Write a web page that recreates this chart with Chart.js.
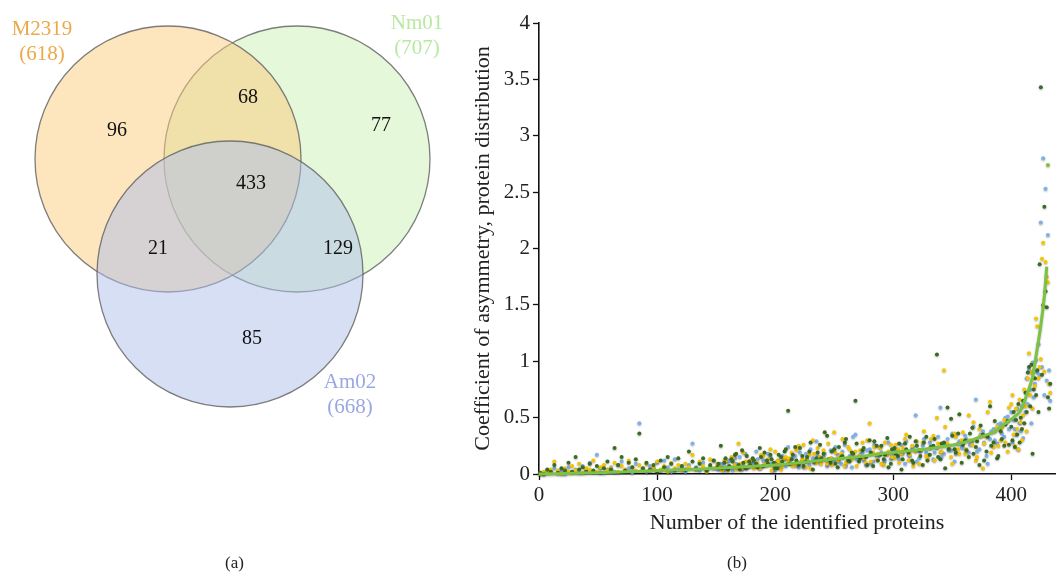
<!DOCTYPE html>
<html>
<head>
<meta charset="utf-8">
<script src="https://cdn.jsdelivr.net/npm/chart.js@4.4.1/dist/chart.umd.min.js"></script>
<style>
  body { margin: 0; background: #fff; }
  #wrap { position: relative; width: 1059px; height: 575px; overflow: hidden; }
  .panel { position: absolute; top: 0; }
  .cap { position: absolute; top: 553px; font: 17px "Liberation Serif", serif; color: #222; }
</style>
</head>
<body>
<div id="wrap">
  <div class="panel" style="left:0px"><canvas id="venn" width="470" height="575"></canvas></div>
  <div class="panel" style="left:470px"><canvas id="scatter" width="589" height="575"></canvas></div>
  <div class="cap" style="left:225px">(a)</div>
  <div class="cap" style="left:727px">(b)</div>
</div>
<script>
// ---- (a) Venn data ----
const setNames = ["M2319", "Nm01", "Am02"];
const setTotals = [618, 707, 668];
const regionCounts = [96, 77, 85, 68, 21, 129, 433]; // M only, N only, A only, M&N, M&A, N&A, all

// ---- (b) scatter data ----
const proteins = [
  1, 4, 7, 10, 13, 16, 19, 22, 25, 28,
  31, 34, 37, 40, 43, 46, 49, 52, 55, 58,
  61, 64, 67, 70, 73, 76, 79, 82, 85, 88,
  91, 94, 97, 100, 103, 106, 109, 112, 115, 118,
  121, 124, 127, 130, 133, 136, 139, 142, 145, 148,
  151, 154, 157, 160, 163, 166, 169, 172, 175, 178,
  181, 184, 187, 190, 193, 196, 199, 202, 205, 208,
  211, 214, 217, 220, 223, 226, 229, 232, 235, 238,
  241, 244, 247, 250, 253, 256, 259, 262, 265, 268,
  271, 274, 277, 280, 283, 286, 289, 292, 295, 298,
  301, 304, 307, 310, 313, 316, 319, 322, 325, 328,
  331, 334, 337, 340, 343, 346, 349, 352, 355, 358,
  361, 364, 367, 370, 373, 376, 379, 382, 385, 388,
  391, 394, 397,
  400, 401, 402, 403, 404, 405, 406, 407, 408, 409,
  410, 411, 412, 413, 414, 415, 416, 417, 418, 419,
  420, 421, 422, 423, 424, 425, 426, 427, 428, 429,
  430, 431, 432, 433
];
const blueVals = [
  0.01, 0.00, 0.03, 0.02, 0.05, 0.01, 0.03, 0.00, 0.06, 0.02,
  0.04, 0.01, 0.07, 0.03, 0.10, 0.02, 0.17, 0.05, 0.01, 0.04,
  0.06, 0.02, 0.08, 0.11, 0.03, 0.05, 0.01, 0.09, 0.45, 0.04,
  0.02, 0.07, 0.05, 0.10, 0.03, 0.12, 0.06, 0.02, 0.13, 0.04,
  0.05, 0.02, 0.08, 0.27, 0.06, 0.03, 0.10, 0.04, 0.07, 0.12,
  0.05, 0.09, 0.03, 0.11, 0.06, 0.14, 0.08, 0.04, 0.18, 0.07,
  0.10, 0.20, 0.05, 0.12, 0.08, 0.15, 0.03, 0.11, 0.07, 0.13,
  0.24, 0.09, 0.16, 0.06, 0.12, 0.18, 0.08, 0.14, 0.29, 0.10,
  0.15, 0.07, 0.21, 0.12, 0.17, 0.09, 0.26, 0.13, 0.06, 0.35,
  0.14, 0.19, 0.08, 0.22, 0.11, 0.16, 0.24, 0.10, 0.18, 0.13,
  0.20, 0.15, 0.26, 0.09, 0.17, 0.22, 0.52, 0.14, 0.25, 0.19,
  0.28, 0.13, 0.23, 0.59, 0.18, 0.31, 0.21, 0.11, 0.27, 0.24,
  0.34, 0.19, 0.29, 0.66, 0.22, 0.38, 0.16, 0.31, 0.40, 0.27,
  0.45, 0.33, 0.51,
  0.55, 0.28, 0.48, 0.40, 0.35, 0.58, 0.22, 0.45, 0.38, 0.60,
  0.32, 0.65, 0.55, 0.85, 0.62, 0.92, 0.75, 0.45, 0.99, 0.68,
  0.80, 1.01, 0.90, 1.15, 0.88, 2.23, 0.95, 2.80, 0.70, 2.53,
  0.83, 2.12, 0.92, 0.65
];
const yellowVals = [
  0.00, 0.02, 0.01, 0.04, 0.11, 0.03, 0.00, 0.05, 0.02, 0.07,
  0.03, 0.09, 0.01, 0.05, 0.04, 0.12, 0.02, 0.06, 0.08, 0.03,
  0.05, 0.10, 0.02, 0.07, 0.04, 0.12, 0.06, 0.03, 0.08, 0.05,
  0.09, 0.03, 0.06, 0.11, 0.04, 0.07, 0.02, 0.10, 0.05, 0.08,
  0.03, 0.09, 0.06, 0.17, 0.04, 0.11, 0.07, 0.02, 0.13, 0.05,
  0.09, 0.06, 0.12, 0.03, 0.15, 0.08, 0.27, 0.05, 0.11, 0.07,
  0.13, 0.09, 0.05, 0.16, 0.10, 0.22, 0.07, 0.12, 0.04, 0.14,
  0.11, 0.19, 0.08, 0.25, 0.13, 0.06, 0.17, 0.30, 0.10, 0.15,
  0.21, 0.09, 0.14, 0.37, 0.12, 0.18, 0.07, 0.24, 0.13, 0.20,
  0.16, 0.28, 0.10, 0.45, 0.19, 0.13, 0.23, 0.08, 0.17, 0.26,
  0.14, 0.22, 0.18, 0.31, 0.12, 0.25, 0.20, 0.09, 0.28, 0.16,
  0.23, 0.34, 0.50, 0.19, 0.92, 0.27, 0.15, 0.36, 0.22, 0.30,
  0.18, 0.52, 0.26, 0.12, 0.40, 0.05, 0.33, 0.64, 0.24, 0.42,
  0.30, 0.48, 0.20,
  0.62, 0.70, 0.35, 0.25, 0.58, 0.40, 0.22, 0.66, 0.46, 0.30,
  0.52, 0.75, 0.60, 0.38, 0.85, 1.07, 0.70, 0.90, 0.58, 0.92,
  0.78, 1.38, 1.31, 0.85, 0.95, 1.02, 1.91, 2.05, 0.91, 1.88,
  1.75, 1.70, 0.80, 0.72
];
const darkVals = [
  0.01, 0.00, 0.04, 0.02, 0.08, 0.01, 0.05, 0.03, 0.10, 0.02,
  0.15, 0.04, 0.06, 0.02, 0.09, 0.03, 0.07, 0.01, 0.05, 0.11,
  0.04, 0.23, 0.08, 0.15, 0.03, 0.10, 0.06, 0.13, 0.36, 0.05,
  0.10, 0.04, 0.08, 0.02, 0.12, 0.06, 0.15, 0.09, 0.03, 0.14,
  0.07, 0.04, 0.20, 0.11, 0.05, 0.09, 0.14, 0.03, 0.08, 0.12,
  0.06, 0.25, 0.10, 0.04, 0.13, 0.17, 0.08, 0.21, 0.05, 0.11,
  0.14, 0.09, 0.23, 0.07, 0.12, 0.17, 0.10, 0.05, 0.15, 0.20,
  0.56, 0.13, 0.24, 0.08, 0.16, 0.11, 0.20, 0.04, 0.14, 0.26,
  0.18, 0.34, 0.10, 0.22, 0.06, 0.15, 0.28, 0.12, 0.19, 0.65,
  0.11, 0.21, 0.15, 0.30, 0.07, 0.25, 0.17, 0.13, 0.32, 0.09,
  0.23, 0.16, 0.04, 0.27, 0.19, 0.12, 0.29, 0.21, 0.08, 0.33,
  0.17, 0.25, 1.06, 0.13, 0.28, 0.59, 0.49, 0.22, 0.36, 0.10,
  0.30, 0.15, 0.41, 0.24, 0.08, 0.35, 0.20, 0.60, 0.28, 0.14,
  0.38, 0.25, 0.47,
  0.42, 0.30, 0.55, 0.24, 0.48, 0.35, 0.62, 0.28, 0.50, 0.40,
  0.65, 0.45, 0.72, 0.55, 0.90, 0.95, 0.60, 0.97, 0.18, 0.75,
  0.85, 0.70, 0.92, 0.55, 1.86, 3.43, 0.88, 1.50, 2.37, 1.62,
  1.48, 0.68, 0.58, 0.80
];
// second pass over the denser middle section
const proteinsB = [
  152, 155, 158, 161, 164, 167, 170, 173, 176, 179,
  182, 185, 188, 191, 194, 197, 200, 203, 206, 209,
  212, 215, 218, 221, 224, 227, 230, 233, 236, 239,
  242, 245, 248, 251, 254, 257, 260, 263, 266, 269,
  272, 275, 278, 281, 284, 287, 290, 293, 296, 299,
  302, 305, 308, 311, 314, 317, 320, 323, 326, 329,
  332, 335, 338, 341, 344, 347, 350, 353, 356, 359,
  362, 365, 368, 371, 374, 377, 380, 383, 386, 389,
  392, 395, 398
];
const blueValsB = [
  0.04, 0.08, 0.06, 0.12, 0.03, 0.09, 0.15, 0.07, 0.05, 0.10,
  0.08, 0.13, 0.06, 0.11, 0.18, 0.09, 0.04, 0.12, 0.16, 0.07,
  0.11, 0.15, 0.08, 0.19, 0.06, 0.13, 0.22, 0.10, 0.16, 0.12,
  0.18, 0.09, 0.14, 0.24, 0.11, 0.20, 0.07, 0.16, 0.33, 0.13,
  0.17, 0.12, 0.21, 0.09, 0.26, 0.15, 0.19, 0.12, 0.28, 0.16,
  0.22, 0.13, 0.18, 0.29, 0.16, 0.24, 0.11, 0.20, 0.31, 0.17,
  0.25, 0.19, 0.33, 0.15, 0.27, 0.21, 0.36, 0.18, 0.29, 0.23,
  0.31, 0.26, 0.42, 0.20, 0.35, 0.28, 0.09, 0.38, 0.30, 0.44,
  0.36, 0.50, 0.40
];
const yellowValsB = [
  0.07, 0.03, 0.11, 0.06, 0.14, 0.04, 0.09, 0.19, 0.06, 0.12,
  0.05, 0.10, 0.17, 0.08, 0.13, 0.03, 0.20, 0.11, 0.07, 0.15,
  0.14, 0.07, 0.21, 0.10, 0.26, 0.12, 0.05, 0.18, 0.23, 0.09,
  0.13, 0.27, 0.08, 0.19, 0.15, 0.31, 0.10, 0.22, 0.17, 0.07,
  0.21, 0.14, 0.30, 0.11, 0.24, 0.18, 0.09, 0.28, 0.20, 0.15,
  0.26, 0.10, 0.23, 0.35, 0.17, 0.07, 0.29, 0.21, 0.38, 0.14,
  0.31, 0.12, 0.27, 0.20, 0.42, 0.24, 0.09, 0.33, 0.18, 0.37,
  0.22, 0.30, 0.46, 0.15, 0.34, 0.27, 0.55, 0.19, 0.38, 0.25,
  0.41, 0.28, 0.59
];
const darkValsB = [
  0.09, 0.05, 0.14, 0.07, 0.11, 0.18, 0.04, 0.10, 0.16, 0.08,
  0.12, 0.06, 0.15, 0.19, 0.09, 0.13, 0.05, 0.17, 0.11, 0.22,
  0.09, 0.17, 0.12, 0.23, 0.07, 0.15, 0.28, 0.11, 0.19, 0.14,
  0.37, 0.13, 0.20, 0.09, 0.24, 0.16, 0.31, 0.11, 0.18, 0.27,
  0.14, 0.23, 0.08, 0.19, 0.29, 0.12, 0.25, 0.17, 0.06, 0.22,
  0.18, 0.27, 0.13, 0.22, 0.33, 0.10, 0.25, 0.16, 0.28, 0.12,
  0.24, 0.31, 0.15, 0.27, 0.05, 0.22, 0.34, 0.19, 0.53, 0.26,
  0.21, 0.36, 0.18, 0.29, 0.43, 0.12, 0.33, 0.25, 0.47, 0.16,
  0.31, 0.44, 0.26
];
// sorted mean (light green trail)
const meanX = [0, 25, 50, 75, 100, 125, 150, 175, 200, 220, 248, 276, 298, 318, 340, 360, 374, 385, 391, 399, 407, 413, 418, 421, 425, 428, 430];
const meanY = [0.00, 0.005, 0.012, 0.02, 0.03, 0.04, 0.05, 0.065, 0.08, 0.10, 0.13, 0.16, 0.19, 0.21, 0.24, 0.28, 0.33, 0.37, 0.42, 0.48, 0.55, 0.70, 0.86, 1.05, 1.32, 1.58, 1.84];
const meanTopX = [431];
const meanTopY = [2.74];

const xMax = 437;
const serif = '"Liberation Serif", "DejaVu Serif", serif';

// ---------- Venn (a) ----------
// circle geometry in panel pixel units (layout, not data)
const vennCircles = [
  { x: 168, y: 159, fill: "rgba(251,203,125,0.5)", order: 1 },
  { x: 297, y: 159, fill: "rgba(205,241,181,0.5)", order: 2 },
  { x: 230, y: 274, fill: "rgba(175,191,235,0.5)", order: 0 }
];
const vennR = 133;
const regionPos = [[117, 131], [381, 126], [252, 339], [248, 98], [158, 249], [338, 249], [251, 184]];
const setLabelPos = [[42, 29, "#eba94a"], [417, 23, "#b6eaa0"], [350, 382, "#9aa7e2"]];

const vennText = {
  id: "vennText",
  afterDatasetsDraw(chart) {
    const c = chart.ctx;
    const sx = chart.scales.x, sy = chart.scales.y;
    c.save();
    c.textAlign = "center";
    c.textBaseline = "middle";
    c.font = "20px " + serif;
    c.fillStyle = "#111";
    regionCounts.forEach((n, i) => {
      c.fillText(String(n), sx.getPixelForValue(regionPos[i][0]), sy.getPixelForValue(regionPos[i][1]));
    });
    c.font = "21px " + serif;
    setNames.forEach((name, i) => {
      const p = setLabelPos[i];
      c.fillStyle = p[2];
      c.fillText(name, sx.getPixelForValue(p[0]), sy.getPixelForValue(p[1]));
      c.fillText("(" + setTotals[i] + ")", sx.getPixelForValue(p[0]), sy.getPixelForValue(p[1] + 25));
    });
    c.restore();
  }
};

new Chart(document.getElementById("venn"), {
  type: "scatter",
  data: {
    datasets: vennCircles.map((cir, i) => ({
      label: setNames[i],
      data: [{ x: cir.x, y: cir.y }],
      pointBackgroundColor: cir.fill,
      pointBorderColor: "rgba(95,95,95,0.8)",
      pointBorderWidth: 1.3,
      order: cir.order,
      clip: false,
      pointRadius: (ctx) => {
        const s = ctx.chart.scales.x;
        return s.getPixelForValue(vennR) - s.getPixelForValue(0);
      }
    }))
  },
  options: {
    responsive: false,
    animation: false,
    events: [],
    layout: { padding: 0 },
    plugins: { legend: { display: false }, tooltip: { enabled: false } },
    scales: {
      x: { type: "linear", min: 0, max: 470, display: false },
      y: { type: "linear", min: 0, max: 575, reverse: true, display: false }
    }
  },
  plugins: [vennText]
});

// ---------- Scatter (b) ----------
const softShadow = {
  id: "softShadow",
  beforeDatasetsDraw(chart) {
    const c = chart.ctx;
    c.save();
    c.shadowColor = "rgba(0,0,0,0.3)";
    c.shadowBlur = 2;
    c.shadowOffsetY = 1;
  },
  afterDatasetsDraw(chart) {
    chart.ctx.restore();
  }
};

function pts(xs, ys) {
  return xs.map((x, i) => ({ x: x, y: ys[i] }));
}

function dotSet(label, vals, valsB, color, order) {
  return {
    label: label,
    data: pts(proteins, vals).concat(pts(proteinsB, valsB)),
    backgroundColor: color,
    borderWidth: 0,
    pointRadius: 2,
    order: order,
    clip: 8
  };
}

const tickFont = { family: serif, size: 21 };
const titleFont = { family: serif, size: 22 };

new Chart(document.getElementById("scatter"), {
  type: "scatter",
  data: {
    datasets: [
      {
        label: "mean",
        data: pts(meanX, meanY),
        showLine: true,
        borderColor: "#7cc243",
        borderWidth: 3,
        tension: 0.25,
        pointRadius: 0,
        order: 0,
        clip: 8
      },
      {
        label: "mean top",
        data: pts(meanTopX, meanTopY),
        backgroundColor: "#7cc243",
        borderWidth: 0,
        pointRadius: 2,
        order: 0,
        clip: 8
      },
      dotSet("Nm01", darkVals, darkValsB, "#3c6b22", 1),
      dotSet("M2319", yellowVals, yellowValsB, "#f6c400", 2),
      dotSet("Am02", blueVals, blueValsB, "#7fb1e8", 3)
    ]
  },
  options: {
    responsive: false,
    animation: false,
    events: [],
    layout: { padding: { top: 23, right: 1, bottom: 35, left: 0 } },
    plugins: { legend: { display: false }, tooltip: { enabled: false } },
    scales: {
      x: {
        type: "linear",
        min: 0,
        max: xMax,
        afterFit: (s) => { s.height = 66; },
        ticks: { stepSize: 100, includeBounds: false, color: "#222", padding: 3, font: tickFont },
        grid: { drawOnChartArea: false, drawTicks: true, tickLength: 6, color: "#111", tickWidth: 1.3 },
        border: { color: "#111", width: 1.6 },
        title: { display: true, text: "Number of the identified proteins", color: "#222", font: titleFont }
      },
      y: {
        type: "linear",
        min: 0,
        max: 4,
        afterFit: (s) => { s.width = 69; },
        ticks: { stepSize: 0.5, color: "#222", padding: 3, font: tickFont, callback: (v) => String(v) },
        grid: { drawOnChartArea: false, drawTicks: true, tickLength: 6, color: "#111", tickWidth: 1.3 },
        border: { color: "#111", width: 1.6 },
        title: { display: true, text: "Coefficient of asymmetry, protein distribution", color: "#222", font: titleFont, padding: { top: 0, bottom: 2 } }
      }
    }
  },
  plugins: [softShadow]
});
</script>
</body>
</html>
